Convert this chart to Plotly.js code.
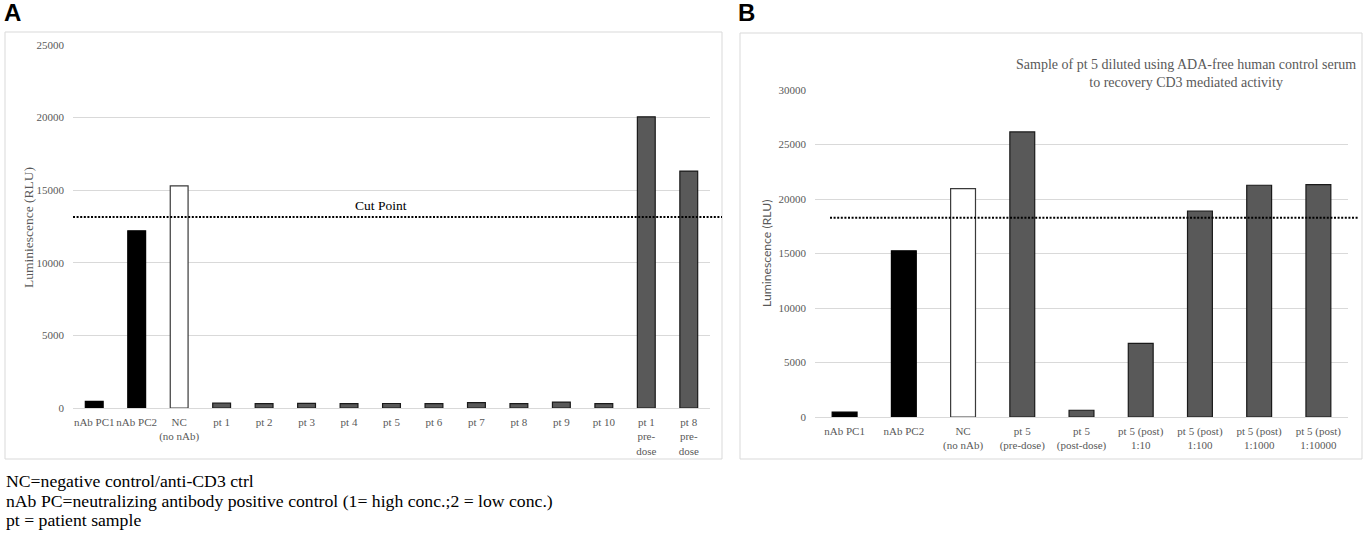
<!DOCTYPE html>
<html>
<head>
<meta charset="utf-8">
<script src="https://cdn.plot.ly/plotly-3.0.1.min.js"></script>
<style>
  html, body { margin:0; padding:0; background:#fff; }
  #fig { width:1365px; height:541px; }
</style>
</head>
<body>
<div id="fig"></div>
<script>
// panel A: screening of patient samples
const CATS_A = ['nAb PC1','nAb PC2','NC<br>(no nAb)','pt 1','pt 2','pt 3','pt 4','pt 5','pt 6','pt 7','pt 8','pt 9','pt 10','pt 1<br>pre-<br>dose','pt 8<br>pre-<br>dose'];
const VALS_A = [450, 12200, 15300, 330, 300, 320, 300, 310, 300, 370, 300, 410, 300, 20050, 16320];
const CUT_A = 13150;

// panel B: pt 5 dilution series
const CATS_B = ['nAb PC1','nAb PC2','NC<br>(no nAb)','pt 5<br>(pre-dose)','pt 5<br>(post-dose)','pt 5 (post)<br>1:10','pt 5 (post)<br>1:100','pt 5 (post)<br>1:1000','pt 5 (post)<br>1:10000'];
const VALS_B = [450, 15250, 20950, 26150, 620, 6760, 18900, 21260, 21310];
const CUT_B = 18290;

const NOTES = [
  'NC=negative control/anti-CD3 ctrl',
  'nAb PC=neutralizing antibody positive control (1= high conc.;2 = low conc.)',
  'pt = patient sample'
];

const W = 1365, H = 541;
const px = x => x / W;
const py = y => 1 - y / H;

const SERIF = 'Liberation Serif, Times New Roman, serif';
const GREY = '#595959';

// fill/outline by sample type
function fill(c){ return c.startsWith('nAb') ? '#000000' : c.startsWith('NC') ? '#ffffff' : '#595959'; }
function edge(c){ return c.startsWith('nAb') ? '#000000' : c.startsWith('NC') ? '#3a3a3a' : '#1a1a1a'; }

function barTrace(cats, vals, xa, ya){
  return {
    type:'bar', x:cats, y:vals, xaxis:xa, yaxis:ya,
    marker:{color:cats.map(fill), line:{color:cats.map(edge), width:1.2}},
    hoverinfo:'x+y', showlegend:false
  };
}

const xBase = {
  type:'category', showgrid:false, zeroline:false, showline:false, ticks:'', ticklabelstandoff:6,
  tickfont:{family:SERIF, size:11, color:GREY}, tickangle:0, fixedrange:true
};
const yBase = {
  showgrid:true, gridcolor:'#d9d9d9', gridwidth:1, zeroline:true, zerolinecolor:'#d9d9d9', zerolinewidth:1,
  showline:false, ticks:'', ticklabelstandoff:8, tickformat:'d',
  tickfont:{family:SERIF, size:11, color:GREY}, fixedrange:true
};

const notes = NOTES.map((t, i) => ({
  text:t, xref:'paper', yref:'paper', x:px(4), y:py(481 + i * 19.5), xanchor:'left', yanchor:'middle',
  showarrow:false, font:{family:SERIF, size:17.7, color:'#000'}
}));

const layout = {
  width:W, height:H, margin:{l:0,r:0,t:0,b:0},
  paper_bgcolor:'#fff', plot_bgcolor:'rgba(0,0,0,0)',
  bargap:0.58,
  xaxis:{...xBase, domain:[px(73), px(710)], anchor:'y'},
  yaxis:{...yBase, domain:[py(408), py(45)], range:[0,25000], dtick:5000, anchor:'x'},
  xaxis2:{...xBase, domain:[px(815), px(1348)], anchor:'y2'},
  yaxis2:{...yBase, domain:[py(417), py(90)], range:[0,30000], dtick:5000, anchor:'x2'},
  shapes:[
    {type:'rect', xref:'paper', yref:'paper', x0:px(5), x1:px(722), y0:py(459), y1:py(32), line:{color:'#d9d9d9', width:1}, layer:'below'},
    {type:'rect', xref:'paper', yref:'paper', x0:px(740), x1:px(1362), y0:py(459), y1:py(33), line:{color:'#d9d9d9', width:1}, layer:'below'},
    {type:'line', xref:'paper', yref:'y', x0:px(73), x1:px(722), y0:CUT_A, y1:CUT_A, line:{color:'#000', width:2, dash:'2px,1.6px'}},
    {type:'line', xref:'paper', yref:'y2', x0:px(830), x1:px(1358), y0:CUT_B, y1:CUT_B, line:{color:'#000', width:2, dash:'2px,1.6px'}}
  ],
  annotations:[
    {text:'<b>A</b>', xref:'paper', yref:'paper', x:px(2), y:py(13), xanchor:'left', yanchor:'middle', showarrow:false, font:{family:'Liberation Sans, Arial, sans-serif', size:24, color:'#000'}},
    {text:'<b>B</b>', xref:'paper', yref:'paper', x:px(736), y:py(13), xanchor:'left', yanchor:'middle', showarrow:false, font:{family:'Liberation Sans, Arial, sans-serif', size:24, color:'#000'}},
    {text:'Luminiescence (RLU)', xref:'paper', yref:'paper', x:px(28), y:py(228), xanchor:'center', yanchor:'middle', textangle:-90, showarrow:false, font:{family:SERIF, size:13.5, color:GREY}},
    {text:'Luminescence (RLU)', xref:'paper', yref:'paper', x:px(767), y:py(254), xanchor:'center', yanchor:'middle', textangle:-90, showarrow:false, font:{family:'Lato, Open Sans, sans-serif', size:12.2, color:GREY}},
    {text:'Cut Point', xref:'paper', yref:'paper', x:px(381), y:py(206), xanchor:'center', yanchor:'middle', showarrow:false, font:{family:SERIF, size:13.5, color:'#000'}},
    {text:'Sample of pt 5 diluted using ADA-free human control serum<br>to recovery CD3 mediated activity', xref:'paper', yref:'paper', x:px(1186), y:py(74), xanchor:'center', yanchor:'middle', showarrow:false, font:{family:SERIF, size:14, color:GREY}},
    ...notes
  ]
};

Plotly.newPlot('fig', [barTrace(CATS_A, VALS_A, 'x', 'y'), barTrace(CATS_B, VALS_B, 'x2', 'y2')], layout, {displayModeBar:false, staticPlot:true});
</script>
</body>
</html>
